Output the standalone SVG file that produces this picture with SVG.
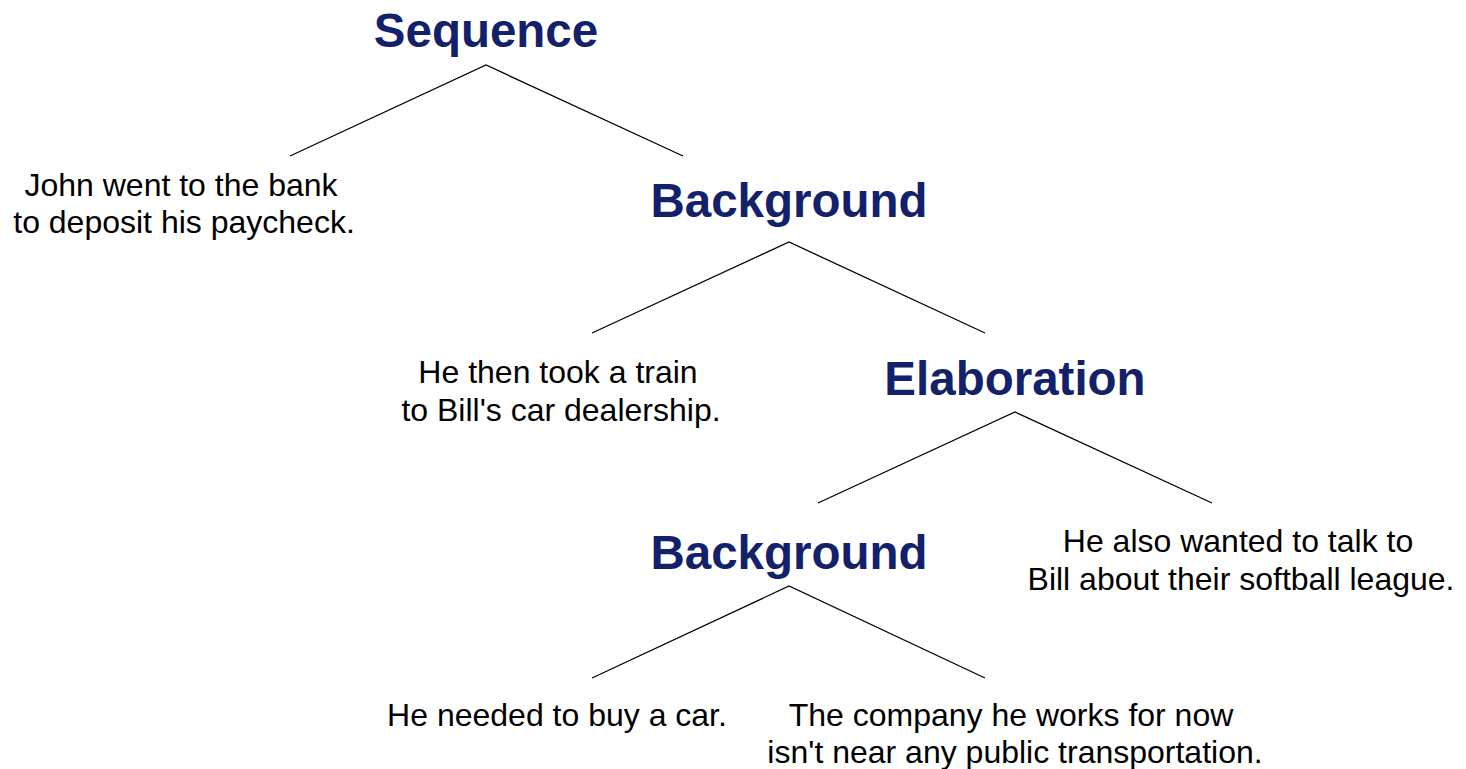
<svg xmlns="http://www.w3.org/2000/svg" width="1466" height="769" viewBox="0 0 1466 769">
<style>
.rel{font-family:"Liberation Sans",Arial,sans-serif;font-weight:bold;font-size:47.5px;fill:#13206a;text-anchor:middle}
.leaf{font-family:"Liberation Sans",Arial,sans-serif;font-size:32px;fill:#000;text-anchor:middle}
.edge{stroke:#000;stroke-width:1.3;fill:none}
</style>
<rect width="1466" height="769" fill="#fff"/>
<g id="connectors">
<polyline class="edge" points="290,156 486,65 683,156"/>
<polyline class="edge" points="592,333 789,242 985,333"/>
<polyline class="edge" points="818,503 1015,412 1212,503"/>
<polyline class="edge" points="592,678 789,586 985,678"/>
</g>
<g id="n-sequence"><text class="rel" x="486" y="47">Sequence</text></g>
<g id="n-john"><text class="leaf" x="181" y="196">John went to the bank</text><text class="leaf" x="184" y="233">to deposit his paycheck.</text></g>
<g id="n-background1"><text class="rel" x="789" y="217">Background</text></g>
<g id="n-train"><text class="leaf" x="558" y="383">He then took a train</text><text class="leaf" x="561" y="421">to Bill's car dealership.</text></g>
<g id="n-elaboration"><text class="rel" x="1015" y="395">Elaboration</text></g>
<g id="n-background2"><text class="rel" x="789" y="569">Background</text></g>
<g id="n-softball"><text class="leaf" x="1238" y="552">He also wanted to talk to</text><text class="leaf" x="1241" y="590">Bill about their softball league.</text></g>
<g id="n-car"><text class="leaf" x="557" y="726">He needed to buy a car.</text></g>
<g id="n-company"><text class="leaf" x="1011" y="726">The company he works for now</text><text class="leaf" x="1015" y="763">isn't near any public transportation.</text></g>
</svg>
